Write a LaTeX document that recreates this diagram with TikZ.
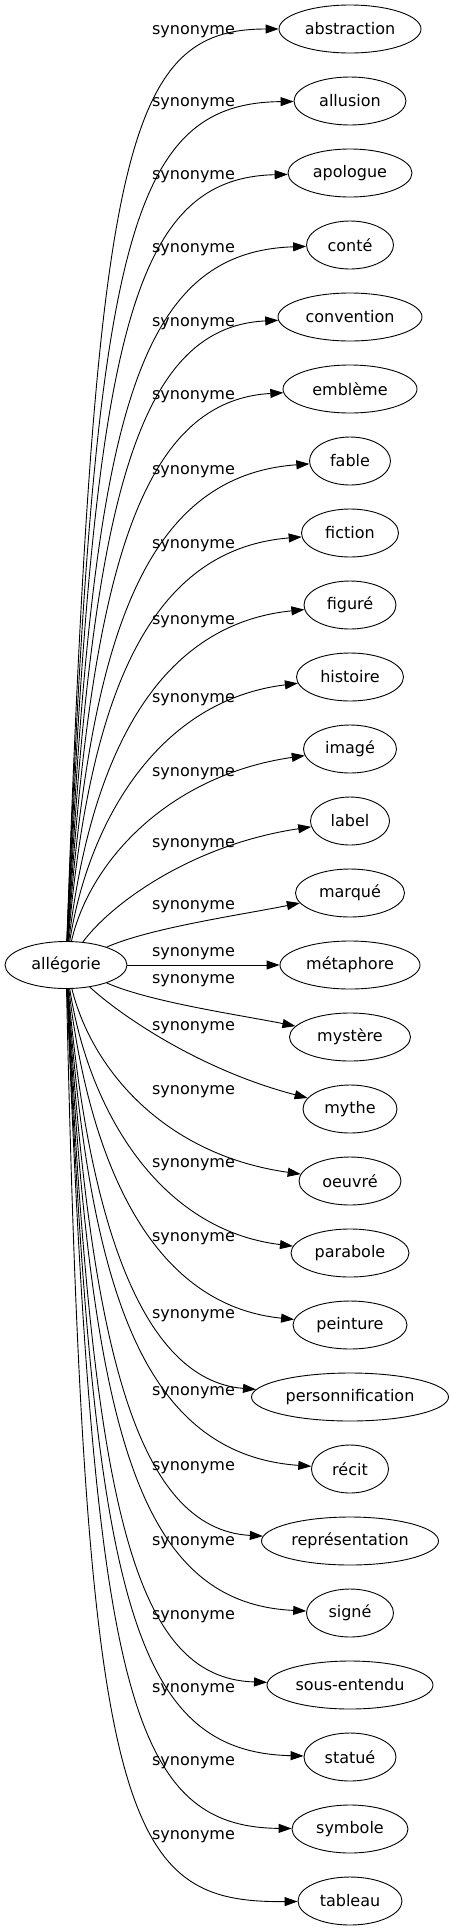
\documentclass[tikz,border=0pt]{standalone}
\usepackage{fontspec}
\setmainfont{DejaVu Sans}
\usetikzlibrary{shapes.geometric,arrows.meta}
\begin{document}
\begin{tikzpicture}[x=1pt,y=-1pt,
  word/.style={draw, ellipse, line width=0.9pt, inner sep=0pt, minimum height=48pt, font=\fontsize{16}{19}\selectfont},
  lab/.style={inner sep=0pt, font=\fontsize{16}{19}\selectfont},
  edge/.style={line width=0.9pt, -{Triangle[length=13pt,width=9pt]}}]
\useasboundingbox (0,0) rectangle (453,1931);
\node[word, minimum width=122pt, minimum height=47pt] (al) at (66,965) {allégorie};
% targets
\node[word, minimum width=142pt] (n0) at (350,29) {abstraction};
\node[word, minimum width=112pt] (n1) at (350,101) {allusion};
\node[word, minimum width=124pt] (n2) at (350,173) {apologue};
\node[word, minimum width=87pt] (n3) at (350,245) {conté};
\node[word, minimum width=144pt] (n4) at (350,317) {convention};
\node[word, minimum width=134pt] (n5) at (350,389) {emblème};
\node[word, minimum width=81pt] (n6) at (350,461) {fable};
\node[word, minimum width=97pt] (n7) at (350,533) {fiction};
\node[word, minimum width=92pt] (n8) at (350,605) {figuré};
\node[word, minimum width=107pt] (n9) at (350,677) {histoire};
\node[word, minimum width=93pt] (n10) at (350,749) {imagé};
\node[word, minimum width=79pt] (n11) at (350,821) {label};
\node[word, minimum width=109pt] (n12) at (350,893) {marqué};
\node[word, minimum width=140pt] (n13) at (350,965) {métaphore};
\node[word, minimum width=121pt] (n14) at (350,1037) {mystère};
\node[word, minimum width=94pt] (n15) at (350,1109) {mythe};
\node[word, minimum width=102pt] (n16) at (350,1181) {oeuvré};
\node[word, minimum width=118pt] (n17) at (350,1253) {parabole};
\node[word, minimum width=114pt] (n18) at (350,1325) {peinture};
\node[word, minimum width=197pt] (n19) at (350,1397) {personnification};
\node[word, minimum width=77pt] (n20) at (350,1469) {récit};
\node[word, minimum width=177pt] (n21) at (350,1541) {représentation};
\node[word, minimum width=87pt] (n22) at (350,1613) {signé};
\node[word, minimum width=166pt] (n23) at (350,1685) {sous-entendu};
\node[word, minimum width=92pt] (n24) at (350,1757) {statué};
\node[word, minimum width=116pt] (n25) at (350,1829) {symbole};
\node[word, minimum width=104pt] (n26) at (350,1901) {tableau};
% labels
\node[lab] (l0) at (193.5,31.7) {synonyme};
\node[lab] (l1) at (193.5,104) {synonyme};
\node[lab] (l2) at (193.5,176.7) {synonyme};
\node[lab] (l3) at (193.5,250) {synonyme};
\node[lab] (l4) at (193.5,324) {synonyme};
\node[lab] (l5) at (193.5,397) {synonyme};
\node[lab] (l6) at (193.5,472) {synonyme};
\node[lab] (l7) at (193.5,546) {synonyme};
\node[lab] (l8) at (193.5,622) {synonyme};
\node[lab] (l9) at (193.5,700) {synonyme};
\node[lab] (l10) at (193.5,774) {synonyme};
\node[lab] (l11) at (193.5,845) {synonyme};
\node[lab] (l12) at (193.5,907) {synonyme};
\node[lab] (l13) at (193.5,954) {synonyme};
\node[lab] (l14) at (193.5,981) {synonyme};
\node[lab] (l15) at (193.5,1028) {synonyme};
\node[lab] (l16) at (193.5,1092) {synonyme};
\node[lab] (l17) at (193.5,1165) {synonyme};
\node[lab] (l18) at (193.5,1239) {synonyme};
\node[lab] (l19) at (193.5,1316) {synonyme};
\node[lab] (l20) at (193.5,1393) {synonyme};
\node[lab] (l21) at (193.5,1468) {synonyme};
\node[lab] (l22) at (193.5,1543) {synonyme};
\node[lab] (l23) at (193.5,1617) {synonyme};
\node[lab] (l24) at (193.5,1690) {synonyme};
\node[lab] (l25) at (193.5,1763) {synonyme};
\node[lab] (l26) at (193.5,1837) {synonyme};
% edges
\draw[edge] (al) .. controls (95,150) and (125,29) .. (n0);
\draw[edge] (al) .. controls (94,248) and (127,103) .. (n1);
\draw[edge] (al) .. controls (93,342) and (129,178) .. (n2);
\draw[edge] (al) .. controls (92,430) and (131,252) .. (n3);
\draw[edge] (al) .. controls (91,511) and (134,327) .. (n4);
\draw[edge] (al) .. controls (90,585) and (136,401) .. (n5);
\draw[edge] (al) .. controls (89,653) and (138,476) .. (n6);
\draw[edge] (al) .. controls (88,715) and (140,550) .. (n7);
\draw[edge] (al) .. controls (89,770) and (150,625) .. (n8);
\draw[edge] (al) .. controls (89,819) and (160,700) .. (n9);
\draw[edge] (al) .. controls (90,860) and (170,775) .. (n10);
\draw[edge] (al) .. controls (110,905) and (190,845) .. (n11);
\draw[edge] (al) .. controls (150,928) and (240,915) .. (n12);
\draw[edge] (al) -- (n13);
\draw[edge] (al) .. controls (150,1002) and (240,1015) .. (n14);
\draw[edge] (al) .. controls (120,1015) and (200,1070) .. (n15);
\draw[edge] (al) .. controls (92,1070) and (165,1155) .. (n16);
\draw[edge] (al) .. controls (89,1112) and (160,1230) .. (n17);
\draw[edge] (al) .. controls (89,1160) and (150,1305) .. (n18);
\draw[edge] (al) .. controls (88,1215) and (140,1380) .. (n19);
\draw[edge] (al) .. controls (89,1277) and (138,1454) .. (n20);
\draw[edge] (al) .. controls (90,1345) and (136,1529) .. (n21);
\draw[edge] (al) .. controls (91,1420) and (134,1603) .. (n22);
\draw[edge] (al) .. controls (92,1501) and (131,1678) .. (n23);
\draw[edge] (al) .. controls (93,1588) and (129,1752) .. (n24);
\draw[edge] (al) .. controls (94,1682) and (127,1827) .. (n25);
\draw[edge] (al) .. controls (85,1830) and (125,1903) .. (n26);
\end{tikzpicture}
\end{document}
